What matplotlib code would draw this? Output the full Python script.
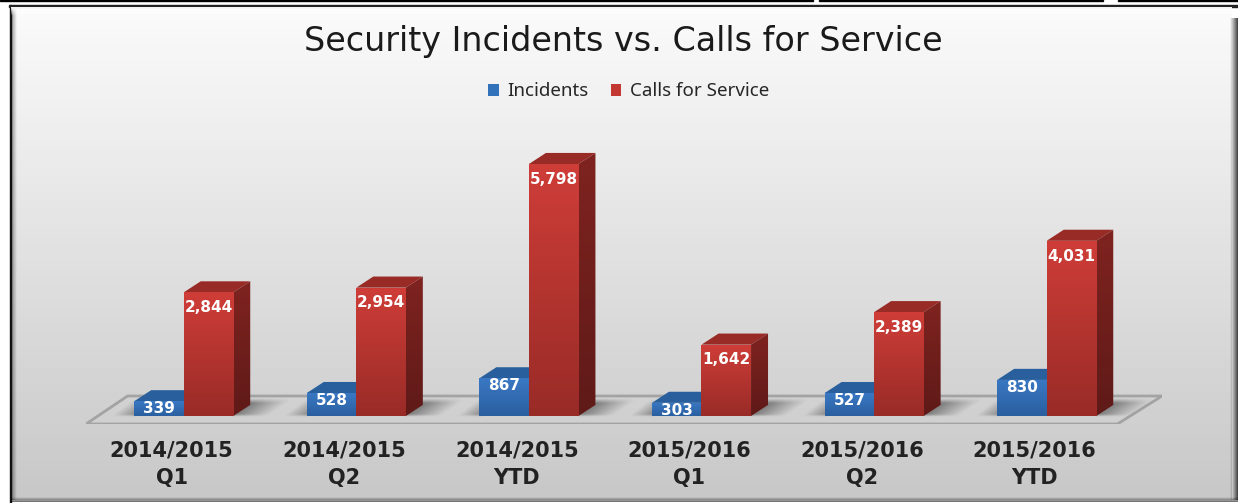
import numpy as np
import matplotlib
matplotlib.use("Agg")
import matplotlib.pyplot as plt
from matplotlib.patches import Polygon, Patch, Rectangle

plt.rcParams["font.family"] = ["Noto Sans", "DejaVu Sans"]

categories = ["2014/2015\nQ1", "2014/2015\nQ2", "2014/2015\nYTD",
              "2015/2016\nQ1", "2015/2016\nQ2", "2015/2016\nYTD"]
incidents = [339, 528, 867, 303, 527, 830]
calls = [2844, 2954, 5798, 1642, 2389, 4031]

W, H = 1238, 503
bar_w = 0.287
depth_x = 0.0985   # depth of the fake 3d, data units
depth_y = 255


def vgrad(c_top, c_bot, n=64):
    a = np.array(matplotlib.colors.to_rgb(c_top))
    b = np.array(matplotlib.colors.to_rgb(c_bot))
    t = np.linspace(0, 1, n)[:, None, None]
    return a * (1 - t) + b * t


fig = plt.figure(figsize=(W / 100, H / 100), dpi=100)

# background panel, in pixels
bg = fig.add_axes([0, 0, 1, 1])
bg.set_xlim(0, W)
bg.set_ylim(H, 0)
bg.axis("off")
bg.imshow(vgrad("#fbfbfb", "#c8c8c8"), extent=[10, 1232, 500, 7],
          aspect="auto", zorder=1)
bg.add_patch(Rectangle((0, 0), 9, H, color="white", zorder=2))
bg.add_patch(Rectangle((0, 0), W, 5, color="white", zorder=2))
bg.add_patch(Rectangle((9.5, 5), 1.8, H, color="#111111", zorder=3))
bg.add_patch(Rectangle((9, 5), W, 2, color="#222222", zorder=3))
# stray table rules along the very top
bg.add_patch(Rectangle((0, 0), 813, 1.2, color="black", zorder=3))
bg.add_patch(Rectangle((819, 0), 284, 1.2, color="black", zorder=3))
bg.add_patch(Rectangle((1118, 0), 120, 1.2, color="black", zorder=3))
# bevels
edge = np.linspace(0, 1, 32)
bg.imshow(np.dstack([np.zeros((1, 32, 3)), edge[None, :]]) * 1.0,
          extent=[1230, 1238, 500, 18], aspect="auto", zorder=4, alpha=0.75)
bg.imshow(np.dstack([np.zeros((32, 1, 3)), edge[:, None]]),
          extent=[11, W, 502, 497], aspect="auto", zorder=4, alpha=0.6)
bg.imshow(np.dstack([np.zeros((1, 32, 3)), edge[::-1][None, :]]),
          extent=[11.5, 16, 500, 7], aspect="auto", zorder=4, alpha=0.35)
bg.imshow(np.dstack([np.ones((32, 1, 3)), edge[::-1][:, None]]),
          extent=[11, 1232, 16, 7], aspect="auto", zorder=4)
bg.set_xlim(0, W)
bg.set_ylim(H, 0)

# chart area: left 86 right 1162, top 100 bottom 424
ax = fig.add_axes([86 / W, (H - 424) / H, (1162 - 86) / W, (424 - 100) / H])
ax.patch.set_alpha(0)
xlim = (-0.566, 5.668)
ylim = (-184, 7271)
x = np.arange(len(categories))

# floor
floor = Polygon([(xlim[0], ylim[0]), (5.41, ylim[0]), (xlim[1], 460), (-0.325, 460)],
                closed=True, fc="none", ec="#a3a3a3", lw=2, zorder=1)
ax.add_patch(floor)


def gradient_bar(rect, top, bot):
    xy = rect.get_xy()
    w, h = rect.get_width(), rect.get_height()
    im = ax.imshow(vgrad(top, bot), extent=[xy[0], xy[0] + w, xy[1], xy[1] + h],
                   aspect="auto", zorder=4)
    im.set_clip_path(rect)


def add_depth(rect, c_top, c_side):
    x0 = rect.get_x()
    x1 = x0 + rect.get_width()
    h = rect.get_height()
    ax.add_patch(Polygon([(x0, h), (x1, h), (x1 + depth_x, h + depth_y), (x0 + depth_x, h + depth_y)],
                         fc=c_top, ec="none", zorder=3))
    im = ax.imshow(vgrad(c_side, "#5f1a18"), extent=[x1, x1 + depth_x, 0, h + depth_y],
                   aspect="auto", zorder=3)
    side = Polygon([(x1, 0), (x1 + depth_x, depth_y), (x1 + depth_x, h + depth_y), (x1, h)],
                   fc="none", ec="none", transform=ax.transData)
    ax.add_patch(side)
    im.set_clip_path(side)


def shade(alpha, extent):
    rgba = np.dstack([np.full(alpha.shape + (3,), 0.3), alpha])
    ax.imshow(rgba, extent=extent, origin="lower", aspect="auto", zorder=2,
              interpolation="bilinear")


def add_shadow(gx):
    # soft shadow on the floor, either side of each group
    ys = np.linspace(-25, 390, 30)
    right = gx + bar_w
    xs = np.linspace(right, right + 0.32, 80)
    X, Y = np.meshgrid(xs, ys)
    fade = np.clip((Y + 25) / 60, 0, 1) * np.clip((390 - Y) / 110, 0, 1)
    a = 0.62 * fade * np.clip(1 - (X - right - depth_x * Y / depth_y) / 0.2, 0, 1)
    shade(a, [xs[0], xs[-1], ys[0], ys[-1]])

    left = gx - bar_w
    xs = np.linspace(left - 0.16, left + 0.01, 50)
    X, Y = np.meshgrid(xs, ys)
    fade = np.clip((Y + 25) / 60, 0, 1) * np.clip((390 - Y) / 110, 0, 1)
    a = 0.5 * fade * np.clip((X - (left - 0.14 + 0.14 * (Y + 25) / 415)) / 0.12, 0, 1)
    shade(a, [xs[0], xs[-1], ys[0], ys[-1]])


for gx in x:
    add_shadow(gx)

blue_bars = ax.bar(x - bar_w / 2, incidents, bar_w, color="none", zorder=4)
red_bars = ax.bar(x + bar_w / 2, calls, bar_w, color="none", zorder=4)

for r in blue_bars:
    add_depth(r, "#285f9c", "#1f4c80")
    gradient_bar(r, "#3a78c4", "#2a5f9f")
for r in red_bars:
    add_depth(r, "#992b27", "#7f2320")
    gradient_bar(r, "#cf3d38", "#992b27")

for r, v in zip(blue_bars, incidents):
    ax.annotate(f"{v:,}", (r.get_x() + r.get_width() / 2, v), xytext=(0, -5.5),
                textcoords="offset points", ha="center", va="center", family="DejaVu Sans",
                color="white", fontsize=11, fontweight="bold", zorder=6)
for r, v in zip(red_bars, calls):
    ax.annotate(f"{v:,}", (r.get_x() + r.get_width() / 2, v), xytext=(0, -11),
                textcoords="offset points", ha="center", va="center", family="DejaVu Sans",
                color="white", fontsize=11, fontweight="bold", zorder=6)

ax.set_xlim(xlim)
ax.set_ylim(ylim)
# labels sit a bit left of the groups because of the 3d floor
ax.set_xticks(x - 0.07, categories)
ax.tick_params(axis="x", length=0, pad=12, labelsize=15, labelcolor="#222222")
for t in ax.get_xticklabels():
    t.set_family("DejaVu Sans")
    t.set_fontweight("bold")
    t.set_linespacing(1.45)
ax.set_yticks([])
for s in ax.spines.values():
    s.set_visible(False)

fig.text(623.5 / W, 1 - 42 / H, "Security Incidents vs. Calls for Service",
         ha="center", va="center", fontsize=24, color="#1a1a1a", family="DejaVu Sans")

handles = [Patch(fc="#3272bb", label="Incidents"), Patch(fc="#c23833", label="Calls for Service")]
fig.legend(handles=handles, loc="center", bbox_to_anchor=(628.5 / W, 1 - 91.5 / H), ncol=2,
           frameon=False, fontsize=13.5, handlelength=0.55, handleheight=0.55,
           handletextpad=0.45, columnspacing=1.2, labelcolor="#262626")

fig.savefig("out.png", dpi=100)
